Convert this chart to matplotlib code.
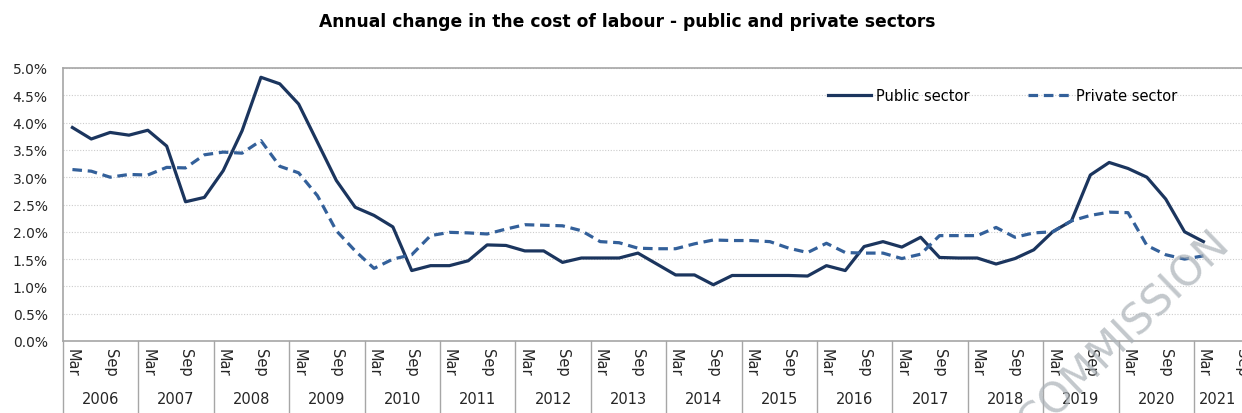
import numpy as np
import matplotlib
matplotlib.use("Agg")
import matplotlib.pyplot as plt
import matplotlib.transforms as mtransforms

# quarterly data, Mar 2006 .. Mar 2021
years = [str(y) for y in range(2006, 2022)]
quarters = ["Mar", "Jun", "Sep", "Dec"]

public = [3.91, 3.70, 3.82, 3.77, 3.86, 3.57, 2.55, 2.63, 3.12, 3.85, 4.83, 4.71,
          4.34, 3.64, 2.94, 2.45, 2.30, 2.09, 1.29, 1.38, 1.38, 1.47, 1.76, 1.75,
          1.65, 1.65, 1.44, 1.52, 1.52, 1.52, 1.61, 1.41, 1.21, 1.21, 1.03, 1.20,
          1.20, 1.20, 1.20, 1.19, 1.38, 1.29, 1.73, 1.82, 1.72, 1.90, 1.53, 1.52,
          1.52, 1.41, 1.51, 1.67, 2.00, 2.20, 3.04, 3.27, 3.16, 3.00, 2.60, 2.00,
          1.82]
private = [3.14, 3.11, 3.00, 3.05, 3.04, 3.18, 3.17, 3.41, 3.46, 3.44, 3.67, 3.20,
           3.08, 2.66, 2.02, 1.65, 1.33, 1.50, 1.58, 1.93, 1.99, 1.98, 1.96, 2.05,
           2.13, 2.12, 2.11, 2.02, 1.82, 1.80, 1.70, 1.69, 1.69, 1.78, 1.85, 1.84,
           1.84, 1.82, 1.70, 1.62, 1.79, 1.62, 1.61, 1.61, 1.51, 1.59, 1.93, 1.93,
           1.93, 2.08, 1.90, 1.98, 2.00, 2.20, 2.30, 2.36, 2.35, 1.75, 1.58, 1.50,
           1.56]

n_cat = len(years) * 4
x = np.arange(len(public))

W, H = 1242, 414
fig = plt.figure(figsize=(W / 100, H / 100), dpi=100)
plt.rcParams['font.family'] = ['DejaVu Sans']

cat_w = 18.85
ax = fig.add_axes([63 / W, (H - 342) / H, n_cat * cat_w / W, 273 / H])

ax.plot(x, public, color='#1b355e', lw=2.3, solid_joinstyle='round', label='Public sector')
ax.plot(x, private, color='#33609a', lw=2.3, dashes=(3, 1.8), label='Private sector')

ax.set_xlim(-0.5, n_cat - 0.5)
ax.set_ylim(0, 5.0)
ax.set_yticks(np.arange(0, 5.01, 0.5))
ax.set_yticklabels([f"{v:.1f}%" for v in np.arange(0, 5.01, 0.5)], fontsize=10, color='#262626')
ax.yaxis.grid(True, linestyle=(0, (1, 1.5)), color='#cccccc', lw=0.8)
ax.set_axisbelow(True)
ax.tick_params(axis='y', length=0, pad=11)

tick_pos = [i for i in range(n_cat) if i % 4 in (0, 2)]
ax.set_xticks(tick_pos)
ax.set_xticklabels([quarters[i % 4] for i in tick_pos], rotation=-90, fontsize=10.5, color='#262626')
ax.tick_params(axis='x', length=0, pad=5)

for s in ['left', 'bottom', 'top']:
    ax.spines[s].set_color('#a6a6a6')
    ax.spines[s].set_linewidth(1.2)
ax.spines['right'].set_visible(False)

trans = mtransforms.blended_transform_factory(ax.transData, ax.transAxes)
for k in range(len(years) + 1):
    ax.plot([4 * k - 0.5, 4 * k - 0.5], [0, -0.3], color='#a6a6a6', lw=1.0,
            transform=trans, clip_on=False)

# last year group is cut by the figure edge, centre its label in the visible part
x_edge = -0.5 + (W - 63) / cat_w
for k, yr in enumerate(years):
    xc = 4 * k + 1.5
    if k == len(years) - 1:
        xc = (4 * k - 0.5 + x_edge) / 2
    ax.text(xc, -0.212, yr, transform=trans, ha='center', va='center',
            fontsize=10.5, color='#262626')

leg = ax.legend(loc='center left', bbox_to_anchor=(0.623, 0.9), ncol=2, frameon=False,
                fontsize=10.5, handlelength=3.0, columnspacing=4.0, handletextpad=0.3)

fig.text(0.505, 1 - 22 / H, "Annual change in the cost of labour - public and private sectors",
         ha='center', va='center', fontsize=12.3, fontweight='bold', color='#000000')

fig.text(1124 / W, 1 - 333 / H, "COMMISSION", rotation=44, ha='center', va='center',
         fontsize=30, color='#a9b0b6', alpha=0.7)

fig.savefig("out.png", dpi=100)
